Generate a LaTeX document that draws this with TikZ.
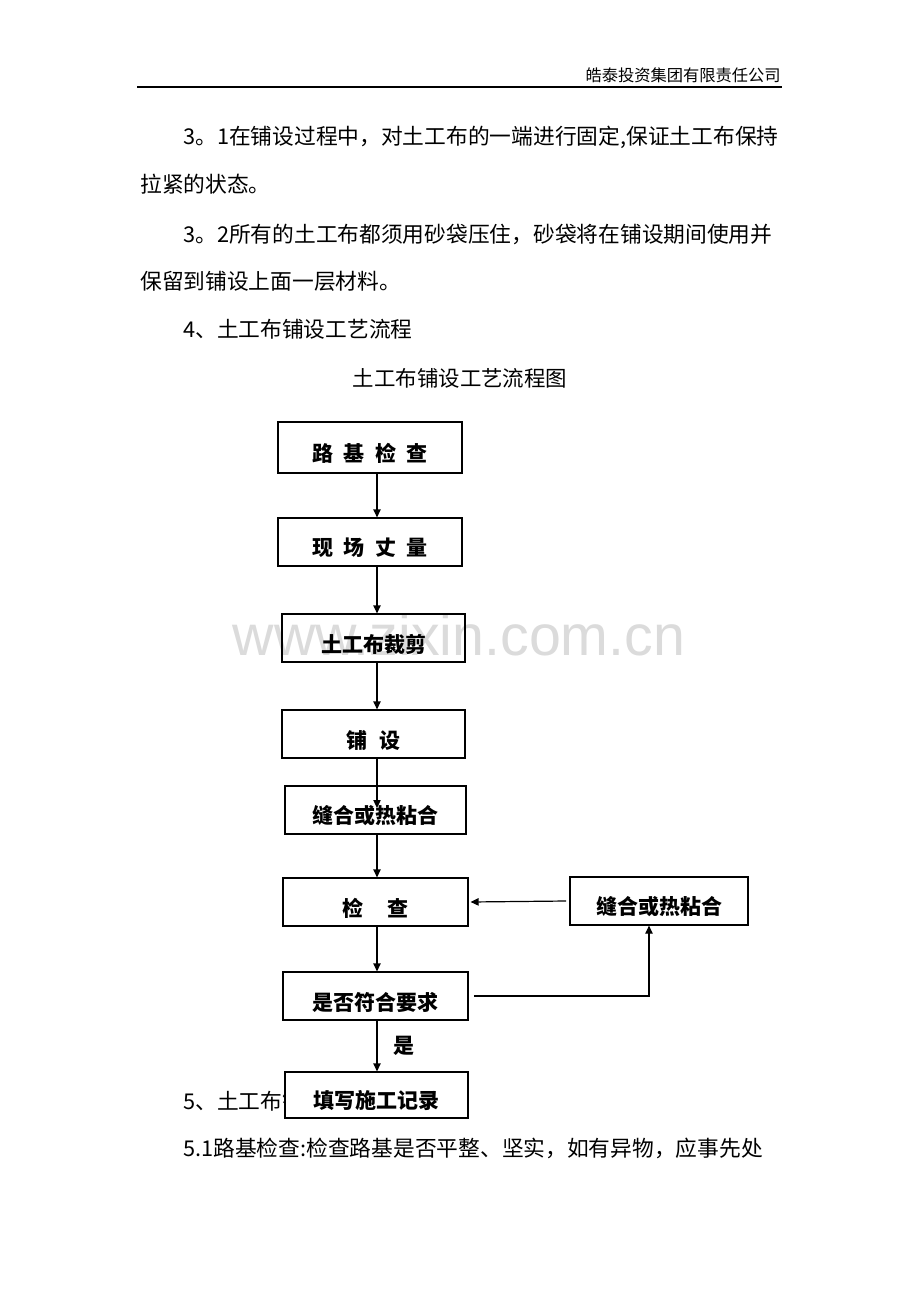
\documentclass[tikz,border=0pt]{standalone}
\usepackage{fontspec}
\setmainfont{Noto Sans CJK SC}
\newfontfamily\wmfont{Liberation Sans}
\usetikzlibrary{arrows.meta}
\newcommand{\lowr}[1]{\raisebox{-4.5pt}[\height][\depth]{#1}}
\begin{document}
\begin{tikzpicture}[x=0.75pt,y=-0.75pt,
  box/.style={draw, line width=0.9pt, fill=white, inner sep=0pt, font=\bfseries\fontsize{15.75}{18}\selectfont},
  body/.style={anchor=west, inner sep=0pt, font=\fontsize{16.3}{18}\selectfont},
  arr/.style={-{Triangle[length=6pt,width=5.5pt]}, line width=0.9pt}]
\useasboundingbox[fill=white] (0,0) rectangle (920,1302);
% header
\node[anchor=east, inner sep=0pt, font=\fontsize{12.2}{14}\selectfont] (hdr) at (781,75) {皓泰投资集团有限责任公司};
\coordinate (hl) at (137,87);
\coordinate (hr) at (782,87);
\draw[line width=1.1pt] (hl) -- (hr);
% body text
\node[body] (p1) at (183,137) {3。1在铺设过程中，对土工布的一端进行固定,保证土工布保持};
\node[body] (p2) at (140,184) {拉紧的状态。};
\node[body] (p3) at (183,234) {3。2所有的土工布都须用砂袋压住，砂袋将在铺设期间使用并};
\node[body] (p4) at (140,281) {保留到铺设上面一层材料。};
\node[body] (p5) at (183,329) {4、土工布铺设工艺流程};
\node[inner sep=0pt, font=\fontsize{16.1}{18}\selectfont] (ttl) at (460,378) {土工布铺设工艺流程图};
\node[body] (p6) at (183,1101) {5、土工布铺设};
\node[body] (p7) at (183,1148) {5.1路基检查:检查路基是否平整、坚实，如有异物，应事先处};
% watermark (behind the unfilled box it crosses)
\node[text=gray!28, inner sep=0pt, font=\wmfont\fontsize{43}{50}\selectfont] (wm) at (459,635) {www.zixin.com.cn};
% boxes
\node[box, minimum width=138pt, minimum height=38.25pt] (b1) at (370,447.5) {\lowr{路\hspace{0.5em}基\hspace{0.5em}检\hspace{0.5em}查}};
\node[box, minimum width=138pt, minimum height=36pt] (b2) at (370,542) {\lowr{现\hspace{0.5em}场\hspace{0.5em}丈\hspace{0.5em}量}};
\node[box, fill=none, minimum width=137.25pt, minimum height=36pt] (b3) at (373.5,638) {\lowr{土工布裁剪}};
\node[box, minimum width=137.25pt, minimum height=36pt] (b4) at (373.5,734) {\lowr{铺\hspace{0.6em}设}};
\node[box, minimum width=135.75pt, minimum height=36pt] (b5) at (375.5,810) {\lowr{缝合或热粘合}};
\node[box, minimum width=138.75pt, minimum height=36pt] (b6) at (375.5,902) {\lowr{检\hspace{1.15em}查}};
\node[box, minimum width=138.75pt, minimum height=36pt] (b7) at (375.5,996) {\lowr{是否符合要求}};
\node[box, minimum width=137.25pt, minimum height=34.5pt] (b8) at (376.5,1095) {\lowr{填写施工记录}};
\node[box, minimum width=133.5pt, minimum height=36pt] (b9) at (659,901) {\lowr{缝合或热粘合}};
% connectors
\coordinate (ax) at (377,0);
\coordinate (rx) at (649,0);
\draw[arr] (b1.south -| ax) -- (b2.north -| ax);
\draw[arr] (b2.south -| ax) -- (b3.north -| ax);
\draw[arr] (b3.south -| ax) -- (b4.north -| ax);
\draw[arr] (b4.south -| ax) -- ([yshift=1.5pt]b5.center -| ax);
\draw[arr] (b5.south -| ax) -- (b6.north -| ax);
\draw[arr] (b6.south -| ax) -- (b7.north -| ax);
\draw[arr] (b7.south -| ax) -- node[right=12pt, inner sep=0pt, font=\bfseries\fontsize{15.75}{18}\selectfont] (yes) {是} (b8.north -| ax);
\draw[arr] ([xshift=-2.5pt]b9.west) -- ([xshift=1.5pt]b6.east);
\draw[arr] ([xshift=4pt]b7.east) -- (b7.east -| rx) -- (b9.south -| rx);
\end{tikzpicture}
\end{document}
